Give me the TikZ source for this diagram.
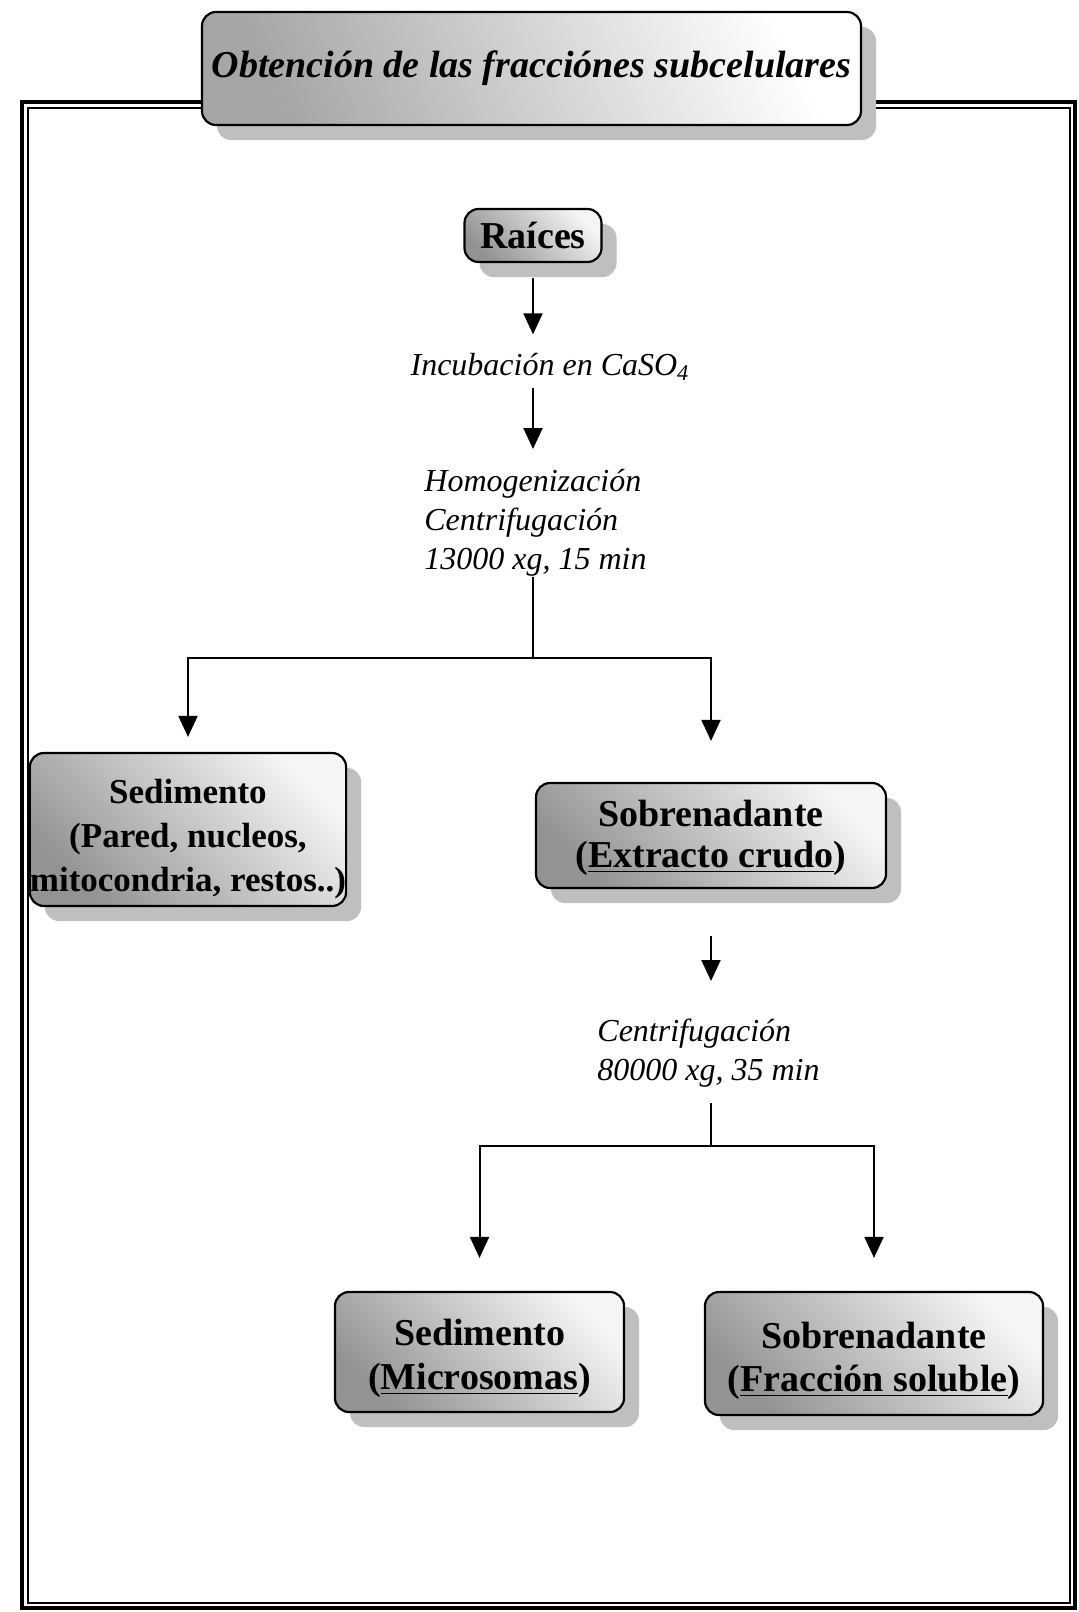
\documentclass[tikz,border=0pt]{standalone}
\usepackage{fontspec}
\setmainfont{Liberation Serif}
\usetikzlibrary{arrows.meta,shadows}

\tikzset{
  caja/.style={draw,line width=1.1pt,rounded corners=7pt,align=center,
    font=\fontsize{19}{21}\selectfont\bfseries,
    top color=gray!85,bottom color=gray!8,shading angle=135,
    drop shadow={shadow xshift=7.5pt,shadow yshift=-7.5pt,fill=gray!50,opacity=1}},
  titulo/.style={caja,inner sep=4pt,font=\fontsize{19}{23}\selectfont\bfseries\itshape,
    top color=gray!70,bottom color=white,shading angle=115},
  paso/.style={inner sep=0pt,align=left,font=\fontsize{16}{19.5}\selectfont\itshape},
  flecha/.style={line width=1pt}
}

\begin{document}
\begin{tikzpicture}[x=0.5pt,y=-0.5pt,>={Triangle[width=9.5pt,length=10.5pt]}]
  \useasboundingbox (0,0) rectangle (1079,1612);
  \draw[line width=2pt] (22,102) rectangle (1075,1608);
  \draw[line width=0.75pt] (28,108) rectangle (1070,1603);

  \node[titulo,minimum width=329.5pt,minimum height=56.5pt] (tit) at (531.5,68.5)
    {Obtención de las fracciónes subcelulares};
  \node[caja,minimum width=68.5pt,minimum height=26.5pt] (r) at (533,235.5) {Raíces};
  \node[paso,anchor=base] (inc) at (550,375) {Incubación en CaSO\textsubscript{4}};
  \node[paso,anchor=north west] (hom) at (424,469)
    {Homogenización\\Centrifugación\\13000 xg, 15 min};
  \coordinate (s1) at (533,658);

  \node[caja,inner sep=0pt,minimum width=154pt,minimum height=76.5pt,
    font=\fontsize{17.5}{22}\selectfont\bfseries] (sed1) at (188,829.5)
    {\rule{0pt}{22pt}Sedimento\\(Pared, nucleos,\\mitocondria, restos..)};
  \node[caja,minimum width=175pt,minimum height=52.5pt,
    font=\fontsize{19}{20.5}\selectfont\bfseries] (sob1) at (711,835.5)
    {\rule{0pt}{16pt}Sobrenadante\\(\underline{Extracto crudo})};
  \node[paso,anchor=north west] (cen) at (597,1019) {Centrifugación\\80000 xg, 35 min};
  \coordinate (s2) at (711,1146);

  \node[caja,minimum width=144.5pt,minimum height=60pt,
    font=\fontsize{19}{22}\selectfont\bfseries] (sed2) at (479.5,1352)
    {\rule{0pt}{20pt}Sedimento\\(\underline{Microsomas})};
  \node[caja,minimum width=169pt,minimum height=61.5pt,
    font=\fontsize{19}{21.5}\selectfont\bfseries] (sob2) at (874,1353.5)
    {\rule{0pt}{21pt}Sobrenadante\\(\underline{Fracción soluble})};

  \draw[flecha,->,shorten <=7.5pt,shorten >=9pt] (r.south) -- (r.south |- inc.north);
  \draw[flecha,->,shorten <=3.5pt,shorten >=10pt] (inc.south -| r) -- (r |- hom.north);
  \draw[flecha] (hom.south -| r) -- (s1);
  \draw[flecha,->,shorten >=7.5pt] (s1) -| (sed1.north);
  \draw[flecha,->,shorten >=20.5pt] (s1) -| (sob1.north);
  \draw[flecha,->,shorten <=23.5pt,shorten >=19pt] (sob1.south) -- (sob1.south |- cen.north);
  \draw[flecha,shorten <=7.5pt] (cen.south -| sob1) -- (s2);
  \draw[flecha,->,shorten >=16.5pt] (s2) -| (sed2.north);
  \draw[flecha,->,shorten >=16.5pt] (s2) -| (sob2.north);
\end{tikzpicture}
\end{document}
